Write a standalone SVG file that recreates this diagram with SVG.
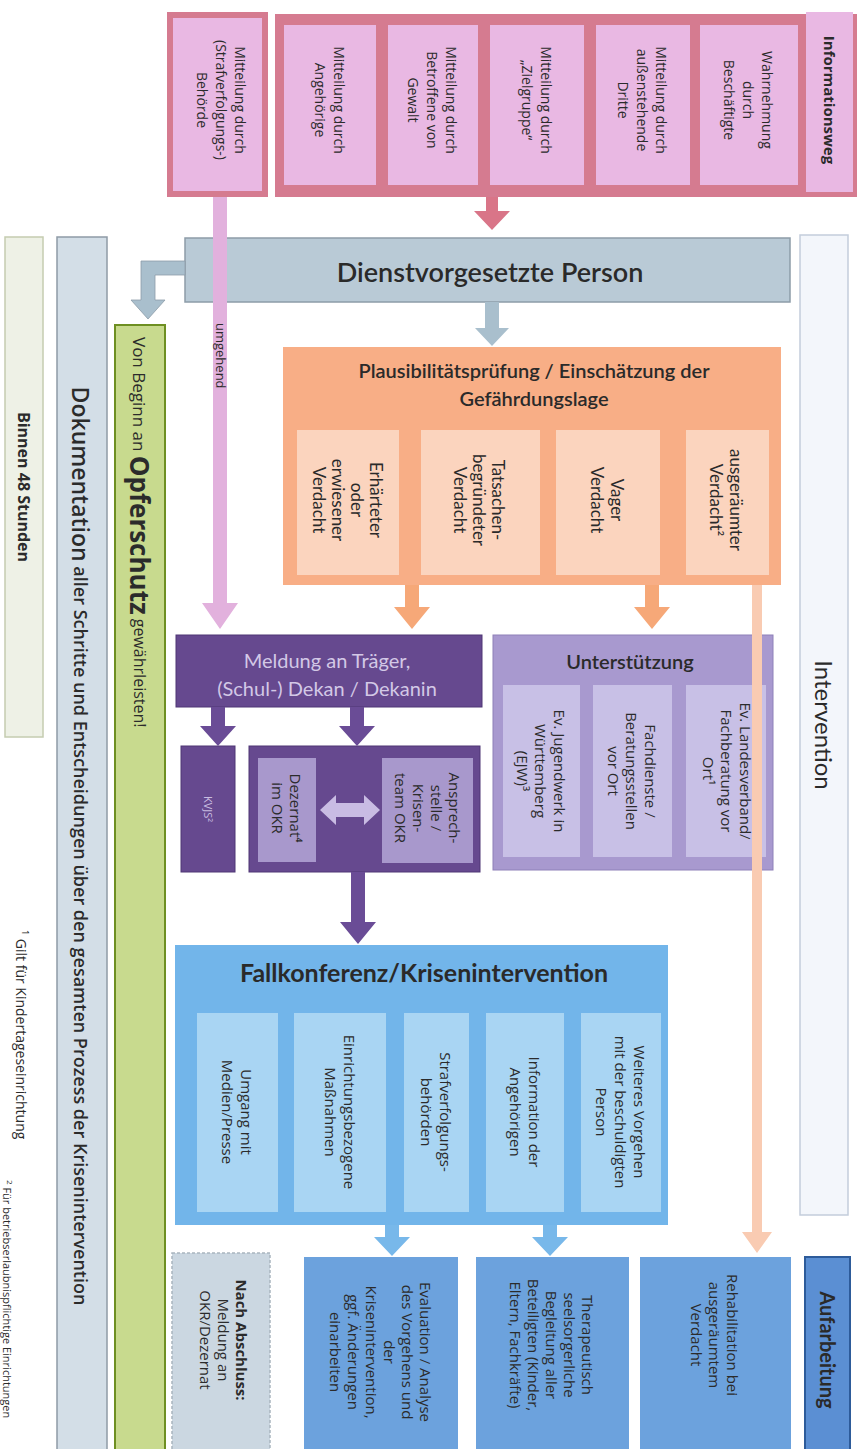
<svg xmlns="http://www.w3.org/2000/svg" width="862" height="1449" viewBox="0 0 862 1449">
<style>
.t{font-family:"Open Sans","Liberation Sans",sans-serif;fill:#2b2b2b;}
.h{font-family:Lato,"Open Sans","Liberation Sans",sans-serif;fill:#2a2a2a;}
.c{text-anchor:middle;dominant-baseline:central;}
.s14{font-size:14px;}
.s15{font-size:15px;}
.s17{font-size:17px;}
.rose{fill:#d57b90;}
.lilac{fill:#e9b8e3;}
.orange{fill:#f8ae86;}
.lorange{fill:#fbd4be;}
.purple{fill:#66498f;stroke:#4e3675;stroke-width:1;}
.lpurple{fill:#a898cc;}
.lav{fill:#a899cf;stroke:#8e80b8;stroke-width:1;}
.llav{fill:#c8c0e6;}
.sky{fill:#72b5ea;}
.lsky{fill:#a9d5f3;}
.blue{fill:#6ca2dd;}
</style>
<rect width="862" height="1449" fill="#ffffff"/>

<!-- Left bars -->
<g id="binnen">
<rect x="5" y="237" width="38" height="500" fill="#eef1e6" stroke="#c5ccb0" stroke-width="1.5"/>
<g transform="translate(24,487) rotate(90)"><text class="t c" font-size="16" font-weight="bold">Binnen 48 Stunden</text></g>
</g>
<g id="dokumentation">
<rect x="57" y="237" width="50" height="1220" fill="#d3dee7" stroke="#8f9ba6" stroke-width="1.5"/>
<g transform="translate(81,846) rotate(90)"><text class="t c" font-weight="600"><tspan font-size="23">Dokumentation</tspan><tspan font-size="18"> aller Schritte und Entscheidungen über den gesamten Prozess der Krisenintervention</tspan></text></g>
</g>
<g id="opferschutz">
<rect x="115" y="325" width="50" height="1130" fill="#c8da8e" stroke="#6e8f22" stroke-width="2"/>
<g transform="translate(140,337) rotate(90)"><text class="t" dominant-baseline="central"><tspan font-size="17">Von Beginn an </tspan><tspan font-size="26" font-weight="bold">Opferschutz</tspan><tspan font-size="16"> gewährleisten!</tspan></text></g>
</g>
<g id="fussnoten">
<g transform="translate(22,930) rotate(90)"><text class="t" font-size="14" dominant-baseline="central"><tspan font-size="9" dy="-4">1</tspan><tspan dy="4"> Gilt für Kindertageseinrichtung</tspan></text></g>
<g transform="translate(8,1180) rotate(90)"><text class="t" font-size="11" dominant-baseline="central"><tspan font-size="8" dy="-3">2</tspan><tspan dy="3"> Für betriebserlaubnispflichtige Einrichtungen</tspan></text></g>
</g>

<!-- Right bars -->
<g id="intervention">
<rect x="800" y="235" width="48" height="980" fill="#f3f6fb" stroke="#c3cddb" stroke-width="1.5"/>
<g transform="translate(824,725) rotate(90)"><text class="h c" font-size="24">Intervention</text></g>
</g>
<g id="aufarbeitung">
<rect x="805" y="1257" width="45" height="200" fill="#5b8fd3" stroke="#2d5b9a" stroke-width="2"/>
<g transform="translate(828,1350) rotate(90)"><text class="h c" font-size="20" font-weight="bold">Aufarbeitung</text></g>
</g>

<!-- Informationsweg -->
<g id="behoerde">
<rect class="rose" x="167" y="12" width="101" height="185"/>
<rect class="lilac" x="173" y="18" width="89" height="173"/>
<g transform="translate(222,100) rotate(90)"><text class="t c s14"><tspan x="0" y="-19">Mitteilung durch</tspan><tspan x="0" y="0">(Strafverfolgungs-)</tspan><tspan x="0" y="19">Behörde</tspan></text></g>
</g>
<g id="informationsweg">
<rect class="rose" x="275" y="14" width="582" height="183"/>
<rect class="lilac" x="806" y="12" width="47" height="180"/>
<g transform="translate(830,100) rotate(90)"><text class="t c" font-size="15" font-weight="bold">Informationsweg</text></g>
<rect class="lilac" x="700" y="25" width="98" height="160"/>
<g transform="translate(749,100) rotate(90)"><text class="t c s14"><tspan x="0" y="-19">Wahrnehmung</tspan><tspan x="0" y="0">durch</tspan><tspan x="0" y="19">Beschäftigte</tspan></text></g>
<rect class="lilac" x="596" y="25" width="94" height="160"/>
<g transform="translate(643,100) rotate(90)"><text class="t c s14"><tspan x="0" y="-19">Mitteilung durch</tspan><tspan x="0" y="0">außenstehende</tspan><tspan x="0" y="19">Dritte</tspan></text></g>
<rect class="lilac" x="490" y="25" width="94" height="160"/>
<g transform="translate(537,100) rotate(90)"><text class="t c s14"><tspan x="0" y="-9.5">Mitteilung durch</tspan><tspan x="0" y="9.5">„Zielgruppe“</tspan></text></g>
<rect class="lilac" x="388" y="25" width="90" height="160"/>
<g transform="translate(433,100) rotate(90)"><text class="t c s14"><tspan x="0" y="-19">Mitteilung durch</tspan><tspan x="0" y="0">Betroffene von</tspan><tspan x="0" y="19">Gewalt</tspan></text></g>
<rect class="lilac" x="284" y="25" width="92" height="160"/>
<g transform="translate(330,100) rotate(90)"><text class="t c s14"><tspan x="0" y="-9.5">Mitteilung durch</tspan><tspan x="0" y="9.5">Angehörige</tspan></text></g>
</g>

<!-- Dienstvorgesetzte -->
<g id="dienstvorgesetzte">
<rect x="185" y="238" width="605" height="64" fill="#b9cad6" stroke="#8d9ca8" stroke-width="1.5"/>
<text class="h c" x="490" y="271" font-size="27" font-weight="600">Dienstvorgesetzte Person</text>
</g>

<!-- Plausibilitaet -->
<g id="plausibilitaet">
<rect class="orange" x="283" y="347" width="498" height="238"/>
<text class="h c" font-size="20" font-weight="600"><tspan x="534" y="370">Plausibilitätsprüfung / Einschätzung der</tspan><tspan x="534" y="398">Gefährdungslage</tspan></text>
<rect class="lorange" x="686" y="430" width="83" height="145"/>
<g transform="translate(727,500) rotate(90)"><text class="h c s17"><tspan x="0" y="-10">ausgeräumter</tspan><tspan x="0" y="10">Verdacht²</tspan></text></g>
<rect class="lorange" x="556" y="430" width="104" height="145"/>
<g transform="translate(608,500) rotate(90)"><text class="h c s17"><tspan x="0" y="-10">Vager</tspan><tspan x="0" y="10">Verdacht</tspan></text></g>
<rect class="lorange" x="421" y="430" width="119" height="145"/>
<g transform="translate(480,500) rotate(90)"><text class="h c s17"><tspan x="0" y="-19">Tatsachen-</tspan><tspan x="0" y="0">begründeter</tspan><tspan x="0" y="19">Verdacht</tspan></text></g>
<rect class="lorange" x="297" y="430" width="102" height="145"/>
<g transform="translate(348,500) rotate(90)"><text class="h c s17"><tspan x="0" y="-28.5">Erhärteter</tspan><tspan x="0" y="-9.5">oder</tspan><tspan x="0" y="9.5">erwiesener</tspan><tspan x="0" y="28.5">Verdacht</tspan></text></g>
</g>

<!-- Meldung -->
<g id="meldung">
<rect class="purple" x="176" y="635" width="306" height="72"/>
<text class="h c" font-size="20" style="fill:#d3c8e6"><tspan x="327" y="660">Meldung an Träger,</tspan><tspan x="327" y="688">(Schul-) Dekan / Dekanin</tspan></text>
</g>
<g id="kvjs">
<rect class="purple" x="181" y="746" width="54" height="126"/>
<g transform="translate(208,809) rotate(90)"><text class="t c" font-size="11" style="fill:#c9bde0">KVJS²</text></g>
</g>
<g id="ansprechstelle">
<rect class="purple" x="249" y="746" width="231" height="126"/>
<rect class="lpurple" x="382" y="758" width="91" height="105"/>
<g transform="translate(428,808) rotate(90)"><text class="t c s15"><tspan x="0" y="-27">Ansprech-</tspan><tspan x="0" y="-9">stelle /</tspan><tspan x="0" y="9">Krisen-</tspan><tspan x="0" y="27">team OKR</tspan></text></g>
<rect class="lpurple" x="258" y="758" width="58" height="104"/>
<g transform="translate(287,808) rotate(90)"><text class="t c s15"><tspan x="0" y="-9">Dezernat⁴</tspan><tspan x="0" y="9">im OKR</tspan></text></g>
<polygon points="320,810 336,795 336,803 364,803 364,795 380,810 364,825 364,817 336,817 336,825" fill="#c9bce3"/>
</g>

<!-- Unterstuetzung -->
<g id="unterstuetzung">
<rect class="lav" x="493" y="635" width="280" height="235"/>
<text class="h c" x="630" y="661" font-size="20" font-weight="600">Unterstützung</text>
<rect class="llav" x="686" y="685" width="80" height="172"/>
<g transform="translate(727,771) rotate(90)"><text class="t c s15"><tspan x="0" y="-18.5">Ev. Landesverband/</tspan><tspan x="0" y="0">Fachberatung vor</tspan><tspan x="0" y="18.5">Ort¹</tspan></text></g>
<rect class="llav" x="593" y="685" width="79" height="172"/>
<g transform="translate(632,771) rotate(90)"><text class="t c s15"><tspan x="0" y="-18.5">Fachdienste /</tspan><tspan x="0" y="0">Beratungsstellen</tspan><tspan x="0" y="18.5">vor Ort</tspan></text></g>
<rect class="llav" x="503" y="685" width="77" height="172"/>
<g transform="translate(541,771) rotate(90)"><text class="t c s15"><tspan x="0" y="-18.5">Ev. Jugendwerk in</tspan><tspan x="0" y="0">Württemberg</tspan><tspan x="0" y="18.5">(EJW)³</tspan></text></g>
</g>

<!-- Fallkonferenz -->
<g id="fallkonferenz">
<rect class="sky" x="175" y="945" width="493" height="280"/>
<text class="h c" x="424" y="972" font-size="25" font-weight="bold">Fallkonferenz/Krisenintervention</text>
<rect class="lsky" x="581" y="1013" width="80" height="199"/>
<g transform="translate(621,1112) rotate(90)"><text class="t c s15"><tspan x="0" y="-19">Weiteres Vorgehen</tspan><tspan x="0" y="0">mit der beschuldigten</tspan><tspan x="0" y="19">Person</tspan></text></g>
<rect class="lsky" x="486" y="1013" width="78" height="199"/>
<g transform="translate(525,1112) rotate(90)"><text class="t c s15"><tspan x="0" y="-9.5">Information der</tspan><tspan x="0" y="9.5">Angehörigen</tspan></text></g>
<rect class="lsky" x="404" y="1013" width="65" height="199"/>
<g transform="translate(436,1112) rotate(90)"><text class="t c s15"><tspan x="0" y="-9.5">Strafverfolgungs-</tspan><tspan x="0" y="9.5">behörden</tspan></text></g>
<rect class="lsky" x="294" y="1013" width="92" height="199"/>
<g transform="translate(340,1112) rotate(90)"><text class="t c s15"><tspan x="0" y="-9.5">Einrichtungsbezogene</tspan><tspan x="0" y="9.5">Maßnahmen</tspan></text></g>
<rect class="lsky" x="197" y="1013" width="81" height="199"/>
<g transform="translate(237,1112) rotate(90)"><text class="t c s15"><tspan x="0" y="-9.5">Umgang mit</tspan><tspan x="0" y="9.5">Medien/Presse</tspan></text></g>
</g>

<!-- Bottom row -->
<g id="nachabschluss">
<rect x="172" y="1253" width="98" height="205" fill="#cbd7e1" stroke="#a9b5bf" stroke-width="1.5" stroke-dasharray="3,2"/>
<g transform="translate(224,1340) rotate(90)"><text class="t c s15"><tspan x="0" y="-18" font-weight="bold">Nach Abschluss:</tspan><tspan x="0" y="0">Meldung an</tspan><tspan x="0" y="18">OKR/Dezernat</tspan></text></g>
</g>
<g id="evaluation">
<rect class="blue" x="304" y="1257" width="154" height="200"/>
<g transform="translate(381,1352) rotate(90)"><text class="t c s15"><tspan x="0" y="-45">Evaluation / Analyse</tspan><tspan x="0" y="-27">des Vorgehens und</tspan><tspan x="0" y="-9">der</tspan><tspan x="0" y="9">Krisenintervention,</tspan><tspan x="0" y="27">ggf. Änderungen</tspan><tspan x="0" y="45">einarbeiten</tspan></text></g>
</g>
<g id="therapeutisch">
<rect class="blue" x="476" y="1257" width="153" height="200"/>
<g transform="translate(552,1345) rotate(90)"><text class="t c s15"><tspan x="0" y="-36">Therapeutisch</tspan><tspan x="0" y="-18">seelsorgerliche</tspan><tspan x="0" y="0">Begleitung aller</tspan><tspan x="0" y="18">Beteiligten (Kinder,</tspan><tspan x="0" y="36">Eltern, Fachkräfte)</tspan></text></g>
</g>
<g id="rehabilitation">
<rect class="blue" x="640" y="1257" width="151" height="200"/>
<g transform="translate(715,1335) rotate(90)"><text class="t c s15"><tspan x="0" y="-18">Rehabilitation bei</tspan><tspan x="0" y="0">ausgeräumtem</tspan><tspan x="0" y="18">Verdacht</tspan></text></g>
</g>

<!-- Connectors -->
<g id="connectors">
<polygon points="486,197 498,197 498,211 510,211 492,230 474,211 486,211" fill="#d97588"/>
<polygon points="485,302 499,302 499,328 509,328 492,346 475,328 485,328" fill="#a9bfcd"/>
<polygon points="185,261 185,275 155,275 155,300 165,300 148,319 131,300 141,300 141,261" fill="#a9bfcd" stroke="#8d9ca8" stroke-width="0.8"/>
<polygon points="213,197 227,197 227,603 238,603 220,629 202,603 213,603" fill="#e2b1dd"/>
<g transform="translate(221,323) rotate(90)"><text class="t" font-size="13" dominant-baseline="central">umgehend</text></g>
<polygon points="405,585 419,585 419,607 430,607 412,629 394,607 405,607" fill="#f6a878"/>
<polygon points="645,585 659,585 659,607 670,607 652,629 634,607 645,607" fill="#f6a878"/>
<polygon points="752,585 762,585 762,1232 772,1232 757,1253 742,1232 752,1232" fill="#f9cbb2"/>
<polygon points="211,707 225,707 225,726 236,726 218,746 200,726 211,726" fill="#6a4c96"/>
<polygon points="350,707 364,707 364,726 375,726 357,746 339,726 350,726" fill="#6a4c96"/>
<polygon points="351,872 365,872 365,922 376,922 358,944 340,922 351,922" fill="#6a4c96"/>
<polygon points="385,1225 399,1225 399,1237 410,1237 392,1256 374,1237 385,1237" fill="#78b8ea"/>
<polygon points="543,1225 557,1225 557,1237 568,1237 550,1256 532,1237 543,1237" fill="#78b8ea"/>
</g>
</svg>
